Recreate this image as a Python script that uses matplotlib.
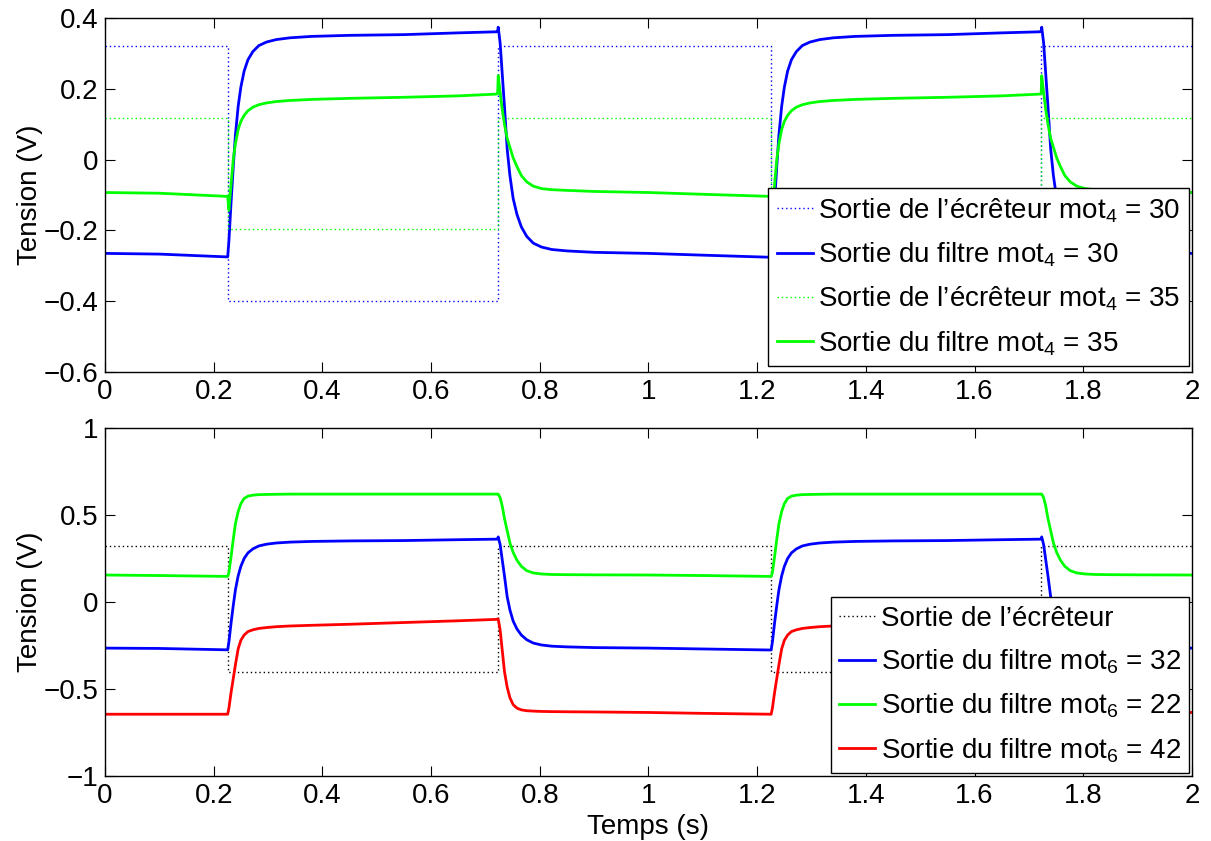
import matplotlib
matplotlib.use("Agg")
import matplotlib.pyplot as plt

plt.rcParams['font.family'] = ['Liberation Sans', 'DejaVu Sans']
plt.rcParams['mathtext.fontset'] = 'custom'
plt.rcParams['mathtext.rm'] = 'Liberation Sans'
plt.rcParams['mathtext.it'] = 'Liberation Sans:italic'
plt.rcParams['font.size'] = 20

# square waves from the clipper (écrêteur)
t_ecr = [0, 0.2257, 0.2257, 0.7225, 0.7225, 1.2257, 1.2257, 1.7225, 1.7225, 2.0]
ecr_mot4_30 = [0.32, 0.32, -0.40, -0.40, 0.32, 0.32, -0.40, -0.40, 0.32, 0.32]
ecr_mot4_35 = [0.118, 0.118, -0.195, -0.195, 0.118, 0.118, -0.195, -0.195, 0.118, 0.118]
ecr_bas = [0.32, 0.32, -0.40, -0.40, 0.32, 0.32, -0.40, -0.40, 0.32, 0.32]

# filter outputs
t_filt = [0, 0.1, 0.2257,
          0.228, 0.232, 0.236, 0.240, 0.245, 0.250, 0.256, 0.263, 0.272, 0.283,
          0.297, 0.315, 0.34, 0.38, 0.45, 0.55, 0.65, 0.72, 0.7225, 0.7235,
          0.727, 0.731, 0.735, 0.74, 0.745, 0.751, 0.758, 0.766, 0.776, 0.788,
          0.803, 0.822, 0.85, 0.9, 1.0, 1.1, 1.2257,
          1.228, 1.232, 1.236, 1.240, 1.245, 1.250, 1.256, 1.263, 1.272, 1.283,
          1.297, 1.315, 1.34, 1.38, 1.45, 1.55, 1.65, 1.72, 1.7225, 1.7235,
          1.727, 1.731, 1.735, 1.74, 1.745, 1.751, 1.758, 1.766, 1.776, 1.788,
          1.803, 1.822, 1.85, 1.9, 2.0]

filtre_mot4_30 = [-0.265, -0.267, -0.275,
                  -0.23, -0.12, -0.02, 0.07, 0.15, 0.205, 0.25, 0.282, 0.305, 0.322,
                  0.332, 0.339, 0.344, 0.348, 0.351, 0.353, 0.358, 0.361, 0.362, 0.374,
                  0.33, 0.24, 0.15, 0.03, -0.045, -0.11, -0.155, -0.19, -0.217, -0.236,
                  -0.247, -0.254, -0.258, -0.262, -0.265, -0.27, -0.276,
                  -0.23, -0.12, -0.02, 0.07, 0.15, 0.205, 0.25, 0.282, 0.305, 0.322,
                  0.332, 0.339, 0.344, 0.348, 0.351, 0.353, 0.358, 0.361, 0.362, 0.374,
                  0.33, 0.24, 0.15, 0.03, -0.045, -0.11, -0.155, -0.19, -0.217, -0.236,
                  -0.247, -0.254, -0.258, -0.262, -0.265]

filtre_mot4_35 = [-0.093, -0.095, -0.104,
                  -0.142, -0.07, 0.0, 0.045, 0.085, 0.108, 0.125, 0.138, 0.148, 0.155,
                  0.16, 0.164, 0.167, 0.17, 0.173, 0.176, 0.18, 0.185, 0.186, 0.237,
                  0.19, 0.14, 0.10, 0.06, 0.035, 0.005, -0.02, -0.045, -0.063, -0.075,
                  -0.082, -0.085, -0.087, -0.09, -0.093, -0.098, -0.104,
                  -0.142, -0.07, 0.0, 0.045, 0.085, 0.108, 0.125, 0.138, 0.148, 0.155,
                  0.16, 0.164, 0.167, 0.17, 0.173, 0.176, 0.18, 0.185, 0.186, 0.237,
                  0.19, 0.14, 0.10, 0.06, 0.035, 0.005, -0.02, -0.045, -0.063, -0.075,
                  -0.082, -0.085, -0.087, -0.09, -0.093]

filtre_mot6_32 = filtre_mot4_30  # same response in the lower panel

filtre_mot6_22 = [0.155, 0.152, 0.147,
                  0.17, 0.26, 0.36, 0.45, 0.52, 0.565, 0.595, 0.608, 0.614, 0.617,
                  0.618, 0.619, 0.62, 0.62, 0.62, 0.62, 0.62, 0.62, 0.62, 0.62,
                  0.60, 0.55, 0.48, 0.41, 0.34, 0.285, 0.24, 0.205, 0.18, 0.167,
                  0.161, 0.158, 0.157, 0.156, 0.155, 0.152, 0.147,
                  0.17, 0.26, 0.36, 0.45, 0.52, 0.565, 0.595, 0.608, 0.614, 0.617,
                  0.618, 0.619, 0.62, 0.62, 0.62, 0.62, 0.62, 0.62, 0.62, 0.62,
                  0.60, 0.55, 0.48, 0.41, 0.34, 0.285, 0.24, 0.205, 0.18, 0.167,
                  0.161, 0.158, 0.157, 0.156, 0.155]

filtre_mot6_42 = [-0.645, -0.645, -0.645,
                  -0.61, -0.52, -0.44, -0.36, -0.27, -0.22, -0.19, -0.17, -0.16, -0.152,
                  -0.147, -0.142, -0.138, -0.134, -0.128, -0.118, -0.108, -0.10, -0.098, -0.098,
                  -0.16, -0.28, -0.40, -0.49, -0.55, -0.59, -0.61, -0.62, -0.625, -0.627,
                  -0.629, -0.63, -0.631, -0.632, -0.635, -0.64, -0.645,
                  -0.61, -0.52, -0.44, -0.36, -0.27, -0.22, -0.19, -0.17, -0.16, -0.152,
                  -0.147, -0.142, -0.138, -0.134, -0.128, -0.118, -0.108, -0.10, -0.098, -0.098,
                  -0.16, -0.28, -0.40, -0.49, -0.55, -0.59, -0.61, -0.62, -0.625, -0.627,
                  -0.629, -0.63, -0.631, -0.632, -0.635]

x_ticks = [0, 0.2, 0.4, 0.6, 0.8, 1, 1.2, 1.4, 1.6, 1.8, 2]
x_labels = ['0', '0.2', '0.4', '0.6', '0.8', '1', '1.2', '1.4', '1.6', '1.8', '2']
y1_ticks = [-0.6, -0.4, -0.2, 0, 0.2, 0.4]
y1_labels = ['\u22120.6', '\u22120.4', '\u22120.2', '0', '0.2', '0.4']
y2_ticks = [-1, -0.5, 0, 0.5, 1]
y2_labels = ['\u22121', '\u22120.5', '0', '0.5', '1']

dots = (0, (1, 2.1))

fig = plt.figure(figsize=(12.11, 8.41), dpi=100)
ax1 = fig.add_axes([0.0867, 0.5577, 0.8976, 0.4209])
ax2 = fig.add_axes([0.0867, 0.0773, 0.8976, 0.4138])

ax1.plot(t_ecr, ecr_mot4_30, color='b', lw=1.0, ls=dots,
         label='Sortie de l\u2019écrêteur mot$_4$ = 30')
ax1.plot(t_filt, filtre_mot4_30, color='b', lw=2,
         label='Sortie du filtre mot$_4$ = 30')
ax1.plot(t_ecr, ecr_mot4_35, color='#00ff00', lw=1.0, ls=dots,
         label='Sortie de l\u2019écrêteur mot$_4$ = 35')
ax1.plot(t_filt, filtre_mot4_35, color='#00ff00', lw=2,
         label='Sortie du filtre mot$_4$ = 35')

ax2.plot(t_ecr, ecr_bas, color='k', lw=1.0, ls=dots,
         label='Sortie de l\u2019écrêteur')
ax2.plot(t_filt, filtre_mot6_32, color='b', lw=2,
         label='Sortie du filtre mot$_6$ = 32')
ax2.plot(t_filt, filtre_mot6_22, color='#00ff00', lw=2,
         label='Sortie du filtre mot$_6$ = 22')
ax2.plot(t_filt, filtre_mot6_42, color='r', lw=2,
         label='Sortie du filtre mot$_6$ = 42')

for ax, yt, yl, ylim, anchor in [(ax1, y1_ticks, y1_labels, (-0.6, 0.4), (0.9972, 0.017)),
                                 (ax2, y2_ticks, y2_labels, (-1, 1), (0.9972, 0.0086))]:
    ax.set_xlim(0, 2)
    ax.set_ylim(*ylim)
    ax.set_xticks(x_ticks)
    ax.set_xticklabels(x_labels)
    ax.set_yticks(yt)
    ax.set_yticklabels(yl)
    ax.tick_params(direction='in', top=True, right=True, length=7, width=0.8,
                   labelsize=20, pad=5)
    for s in ax.spines.values():
        s.set_linewidth(1)
    ax.set_ylabel('Tension (V)', fontsize=20, labelpad=0)
    leg = ax.legend(loc='lower right', bbox_to_anchor=anchor, fontsize=20,
                    fancybox=False, framealpha=1, edgecolor='k', borderaxespad=0,
                    handlelength=1.3, handletextpad=0.2, borderpad=0.3,
                    labelspacing=0.57)
    leg.get_frame().set_linewidth(1)

ax2.set_xlabel('Temps (s)', fontsize=20, labelpad=4)

fig.savefig('out.png', dpi=100)
